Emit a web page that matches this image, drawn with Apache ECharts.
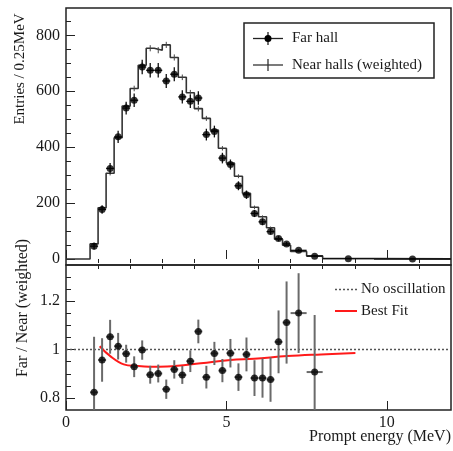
<!DOCTYPE html>
<html>
<head>
<meta charset="utf-8">
<script src="https://cdn.jsdelivr.net/npm/echarts@6/dist/echarts.min.js"></script>
<style>
  html, body { margin: 0; padding: 0; background: #fff; }
  #main { width: 453px; height: 451px; }
</style>
</head>
<body>
<div id="main"></div>
<script>
var myChart = echarts.init(document.getElementById('main'));

// bins (MeV): centre and half width
var binCenter = [0.875, 1.125, 1.375, 1.625, 1.875, 2.125, 2.375, 2.625, 2.875, 3.125,
                 3.375, 3.625, 3.875, 4.125, 4.375, 4.625, 4.875, 5.125, 5.375, 5.625,
                 5.875, 6.125, 6.375, 6.625, 6.875, 7.25, 7.75, 8.8, 10.8];
var binHalf = [0.125, 0.125, 0.125, 0.125, 0.125, 0.125, 0.125, 0.125, 0.125, 0.125,
               0.125, 0.125, 0.125, 0.125, 0.125, 0.125, 0.125, 0.125, 0.125, 0.125,
               0.125, 0.125, 0.125, 0.125, 0.125, 0.25, 0.25, 0.8, 1.2];

// entries / 0.25 MeV
var farHall = [46, 177, 324, 437, 540, 568, 687, 675, 675, 637,
               661, 580, 564, 576, 445, 456, 361, 338, 262, 230,
               163, 133, 98, 73, 54, 31, 10, 1, 0];
var farErr = [12, 15, 19, 22, 23, 24, 26, 26, 26, 25,
              25, 24, 24, 24, 21, 21, 19, 18, 16, 15,
              13, 12, 10, 9, 7, 4, 2.5, 1, 0.5];
var nearHalls = [54, 183, 307, 434, 547, 610, 693, 754, 747, 766,
                 721, 650, 595, 538, 503, 461, 396, 343, 296, 235,
                 185, 151, 112, 71, 49, 27, 11, 2, 0.5];
var nearErr = [4, 6, 8, 9, 10, 10, 11, 11, 11, 11,
               11, 10, 10, 10, 9, 9, 8, 8, 7, 6,
               6, 5, 4, 4, 3, 2, 1, 0.5, 0.3];

// far / near ratio (first 27 bins)
var ratio = [0.823, 0.957, 1.053, 1.014, 0.983, 0.929, 0.998, 0.896, 0.901, 0.836,
             0.918, 0.895, 0.952, 1.075, 0.886, 0.984, 0.913, 0.985, 0.886, 0.98,
             0.882, 0.882, 0.876, 1.032, 1.112, 1.151, 0.907];
var ratioErr = [0.23, 0.09, 0.07, 0.055, 0.037, 0.043, 0.04, 0.037, 0.037, 0.04,
                0.038, 0.037, 0.045, 0.049, 0.047, 0.048, 0.048, 0.059, 0.057, 0.07,
                0.074, 0.081, 0.092, 0.13, 0.17, 0.165, 0.236];

// best fit curve
var fitEnergy = [1.05, 1.38, 1.8, 2.22, 2.6, 3.15, 4.2, 5.13, 5.86, 6.9, 7.95, 9.02];
var fitRatio = [1.014, 0.973, 0.939, 0.932, 0.929, 0.93, 0.943, 0.957, 0.962, 0.973, 0.98, 0.986];

// tick values
var xMajor = [0, 5, 10];
var xMinor = [1, 2, 3, 4, 6, 7, 8, 9, 11];
var yTopMajor = [0, 200, 400, 600, 800];
var yTopMinor = [50, 100, 150, 250, 300, 350, 450, 500, 550, 650, 700, 750, 850];
var yBotMajor = [0.8, 1, 1.2];
var yBotMinor = [0.85, 0.9, 0.95, 1.05, 1.1, 1.15, 1.25, 1.3];

var FONT = 'Liberation Serif';
var TXT = '#1a1a1a';

// histogram edges for the step line
var histData = [[0, 0]];
for (var i = 0; i < binCenter.length; i++) {
    histData.push([binCenter[i] - binHalf[i], nearHalls[i]]);
}
histData.push([12, nearHalls[nearHalls.length - 1]]);

var farData = [], farErrData = [], nearErrData = [], ratioData = [], ratioErrData = [];
for (var i = 0; i < binCenter.length; i++) {
    farData.push([binCenter[i], farHall[i]]);
    farErrData.push([binCenter[i], farHall[i], binHalf[i], farErr[i]]);
    nearErrData.push([binCenter[i], nearHalls[i], 0, nearErr[i]]);
}
for (var i = 0; i < ratio.length; i++) {
    ratioData.push([binCenter[i], ratio[i]]);
    ratioErrData.push([binCenter[i], ratio[i], binHalf[i], ratioErr[i]]);
}
var fitData = fitEnergy.map(function (e, i) { return [e, fitRatio[i]]; });

function errorBars(color, width) {
    return function (params, api) {
        var x = api.value(0), y = api.value(1), ex = api.value(2), ey = api.value(3);
        var cs = params.coordSys;
        function cy(v) { return Math.max(cs.y, Math.min(cs.y + cs.height, v)); }
        var p0 = api.coord([x, y - ey]), p1 = api.coord([x, y + ey]);
        var q0 = api.coord([x - ex, y]), q1 = api.coord([x + ex, y]);
        var st = { stroke: color, lineWidth: width };
        return {
            type: 'group',
            children: [
                { type: 'line', shape: { x1: p0[0], y1: cy(p0[1]), x2: p1[0], y2: cy(p1[1]) }, style: st },
                { type: 'line', shape: { x1: q0[0], y1: q0[1], x2: q1[0], y2: q1[1] }, style: st }
            ]
        };
    };
}

function tickAxis(grid, values, len, dim) {
    var ax = {
        gridIndex: grid,
        type: 'value',
        min: dim === 'x' ? 0 : (grid === 0 ? -21.5 : 0.75),
        max: dim === 'x' ? 12 : (grid === 0 ? 898 : 1.35),
        axisLine: { show: false },
        splitLine: { show: false },
        axisLabel: { show: false },
        axisTick: {
            inside: true, length: len, customValues: values,
            lineStyle: { color: '#222', width: 1 }
        }
    };
    if (dim === 'y') ax.position = 'left';
    return ax;
}

var xTopMaj = tickAxis(0, xMajor, 9, 'x');
var xTopMin = tickAxis(0, xMinor, 4, 'x');
var xBotMaj = tickAxis(1, xMajor, 9, 'x');
xBotMaj.axisLabel = {
    show: true, customValues: xMajor, margin: 5,
    fontFamily: FONT, fontSize: 16, color: TXT
};
var xBotMin = tickAxis(1, xMinor, 4, 'x');

var yTopMaj = tickAxis(0, yTopMajor, 9, 'y');
yTopMaj.axisLabel = {
    show: true, customValues: yTopMajor, margin: 6,
    fontFamily: FONT, fontSize: 16, color: TXT
};
var yTopMin = tickAxis(0, yTopMinor, 5, 'y');
var yBotMaj = tickAxis(1, yBotMajor, 9, 'y');
yBotMaj.axisLabel = {
    show: true, customValues: yBotMajor, margin: 6,
    fontFamily: FONT, fontSize: 16, color: TXT,
    formatter: function (v) { return String(+v.toFixed(2)); }
};
var yBotMin = tickAxis(1, yBotMinor, 5, 'y');

option = {
    backgroundColor: '#fff',
    animation: false,
    grid: [
        { left: 66, right: 2, top: 8, height: 257, show: true, borderColor: '#222', borderWidth: 1.5 },
        { left: 66, right: 2, top: 265, height: 145, show: true, borderColor: '#222', borderWidth: 1.5 }
    ],
    xAxis: [xTopMaj, xTopMin, xBotMaj, xBotMin],
    yAxis: [yTopMaj, yTopMin, yBotMaj, yBotMin],
    series: [
        {
            name: 'Near halls (weighted)',
            type: 'line',
            xAxisIndex: 0, yAxisIndex: 0,
            step: 'end',
            data: histData,
            showSymbol: false,
            lineStyle: { color: '#333', width: 1.6 },
            z: 2
        },
        {
            type: 'custom',
            xAxisIndex: 0, yAxisIndex: 0,
            renderItem: errorBars('#444', 1),
            data: nearErrData,
            encode: { x: 0, y: 1 },
            z: 3
        },
        {
            type: 'custom',
            xAxisIndex: 0, yAxisIndex: 0,
            renderItem: errorBars('#111', 1.3),
            data: farErrData,
            encode: { x: 0, y: 1 },
            z: 4
        },
        {
            name: 'Far hall',
            type: 'scatter',
            xAxisIndex: 0, yAxisIndex: 0,
            data: farData,
            symbol: 'circle',
            symbolSize: 7,
            itemStyle: { color: '#000' },
            z: 5
        },
        {
            name: 'No oscillation',
            type: 'line',
            xAxisIndex: 2, yAxisIndex: 2,
            data: [[0, 1], [12, 1]],
            showSymbol: false,
            lineStyle: { color: '#555', width: 1.5, type: [2, 2] },
            z: 2
        },
        {
            name: 'Best Fit',
            type: 'line',
            xAxisIndex: 2, yAxisIndex: 2,
            data: fitData,
            smooth: 0.4,
            showSymbol: false,
            lineStyle: { color: '#ff1a1a', width: 2 },
            z: 3
        },
        {
            type: 'custom',
            xAxisIndex: 2, yAxisIndex: 2,
            renderItem: errorBars('#6a6a6a', 2),
            data: ratioErrData,
            encode: { x: 0, y: 1 },
            z: 4
        },
        {
            type: 'scatter',
            xAxisIndex: 2, yAxisIndex: 2,
            data: ratioData,
            symbol: 'circle',
            symbolSize: 7,
            itemStyle: { color: '#000' },
            z: 5
        }
    ],
    graphic: [
        // top legend
        { type: 'rect', shape: { x: 244, y: 23, width: 190, height: 55 },
          style: { fill: '#fff', stroke: '#222', lineWidth: 1.5 }, z: 10 },
        { type: 'line', shape: { x1: 253, y1: 38.5, x2: 283, y2: 38.5 }, style: { stroke: '#222', lineWidth: 1.3 }, z: 11 },
        { type: 'line', shape: { x1: 268, y1: 32, x2: 268, y2: 45 }, style: { stroke: '#222', lineWidth: 1.3 }, z: 11 },
        { type: 'circle', shape: { cx: 268, cy: 38.5, r: 3.5 }, style: { fill: '#000' }, z: 12 },
        { type: 'text', x: 292, y: 38.5, z: 11,
          style: { text: 'Far hall', font: '15px "' + FONT + '"', fill: TXT, verticalAlign: 'middle' } },
        { type: 'line', shape: { x1: 253, y1: 65, x2: 283, y2: 65 }, style: { stroke: '#333', lineWidth: 1.3 }, z: 11 },
        { type: 'line', shape: { x1: 268, y1: 59, x2: 268, y2: 71 }, style: { stroke: '#333', lineWidth: 1.3 }, z: 11 },
        { type: 'text', x: 292, y: 65, z: 11,
          style: { text: 'Near halls (weighted)', font: '15px "' + FONT + '"', fill: TXT, verticalAlign: 'middle' } },
        // bottom legend
        { type: 'line', shape: { x1: 335, y1: 289.5, x2: 357, y2: 289.5 }, style: { stroke: '#555', lineWidth: 1.5, lineDash: [2, 2] }, z: 11 },
        { type: 'text', x: 361, y: 289.5, z: 11,
          style: { text: 'No oscillation', font: '15px "' + FONT + '"', fill: TXT, verticalAlign: 'middle' } },
        { type: 'line', shape: { x1: 335, y1: 311, x2: 357, y2: 311 }, style: { stroke: '#ff1a1a', lineWidth: 2 }, z: 11 },
        { type: 'text', x: 361, y: 311, z: 11,
          style: { text: 'Best Fit', font: '15px "' + FONT + '"', fill: TXT, verticalAlign: 'middle' } },
        // axis titles
        { type: 'text', x: 20, y: 69, rotation: Math.PI / 2, z: 11,
          style: { text: 'Entries / 0.25MeV', font: '15px "' + FONT + '"', fill: TXT, align: 'center', verticalAlign: 'middle' } },
        { type: 'text', x: 23, y: 308, rotation: Math.PI / 2, z: 11,
          style: { text: 'Far / Near (weighted)', font: '16px "' + FONT + '"', fill: TXT, align: 'center', verticalAlign: 'middle' } },
        { type: 'text', x: 451, y: 437, z: 11,
          style: { text: 'Prompt energy (MeV)', font: '16px "' + FONT + '"', fill: TXT, align: 'right', verticalAlign: 'middle' } }
    ]
};
myChart.setOption(option);
</script>
</body>
</html>
